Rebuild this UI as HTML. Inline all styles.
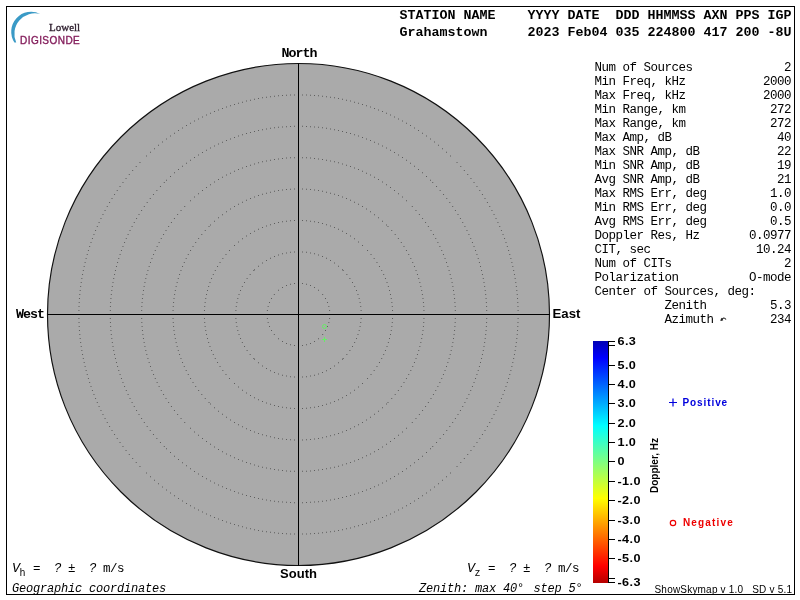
<!DOCTYPE html>
<html><head><meta charset="utf-8">
<style>
html,body{margin:0;padding:0;background:#fff;width:800px;height:600px;overflow:hidden}
svg{display:block;will-change:transform}
text{white-space:pre}
.hb{font-family:"Liberation Mono",monospace;font-weight:bold;font-size:13.333px;fill:#000}
.im{font-family:"Liberation Mono",monospace;font-size:12.5px;letter-spacing:-0.5px;fill:#000}
.it{font-family:"Liberation Mono",monospace;font-style:italic;font-size:12.5px;letter-spacing:-0.5px;fill:#000}
.cb{font-family:"Liberation Sans",sans-serif;font-weight:bold;font-size:11px;letter-spacing:0.4px;fill:#000}
.dirm{font-family:"Liberation Mono",monospace;font-weight:bold;font-size:13.333px;letter-spacing:-1px;fill:#000}
.dir{font-family:"Liberation Sans",sans-serif;font-weight:bold;font-size:13px;fill:#000}
.sm{font-family:"Liberation Sans",sans-serif;font-size:10px;fill:#000;letter-spacing:0.2px}
.lg{font-family:"Liberation Sans",sans-serif;font-weight:bold;font-size:10px;letter-spacing:0.9px}
</style></head>
<body>
<svg width="800" height="600" viewBox="0 0 800 600">
<defs>
<linearGradient id="jet" x1="0" y1="0" x2="0" y2="1">
<stop offset="0" stop-color="#0000b4"/>
<stop offset="0.07" stop-color="#0000ff"/>
<stop offset="0.35" stop-color="#00ffff"/>
<stop offset="0.5" stop-color="#80ff80"/>
<stop offset="0.65" stop-color="#ffff00"/>
<stop offset="0.93" stop-color="#ff0000"/>
<stop offset="1" stop-color="#b40000"/>
</linearGradient>
</defs>
<rect x="6.5" y="6.5" width="788" height="588" fill="none" stroke="#000" stroke-width="1"/>
<!-- logo -->
<path d="M40.45,14.13 A19.9,19.9 0 0 0 14.4,42.5 L16.2,42.5 A20.6,20.6 0 0 1 40.45,14.13 Z" fill="#3a9ac6"/>
<text x="49" y="30.5" style="font-family:'Liberation Serif',serif;font-size:11px;fill:#2a1a2a;stroke:#2a1a2a;stroke-width:0.3px">Lowell</text>
<text x="20" y="43.7" style="font-family:'Liberation Sans',sans-serif;font-size:10px;letter-spacing:0.45px;fill:#841e5c;stroke:#841e5c;stroke-width:0.35px">DIGISONDE</text>
<!-- header -->
<text class="hb" x="399.5" y="19">STATION NAME    YYYY DATE  DDD HHMMSS AXN PPS IGP</text>
<text class="hb" x="399.5" y="36">Grahamstown     2023 Feb04 035 224800 417 200 -8U</text>
<!-- chart -->
<circle cx="298.5" cy="314.5" r="251" fill="#aaaaaa" stroke="#111" stroke-width="1.15"/>
<path fill="#5e5e5e" d="M328.34 306h1v1h-1zM266.88 318h1v1h-1zM306 283.66h1v1h-1zM278 338.17h1v1h-1zM271.01 298h1v1h-1zM329.38 314h1v1h-1zM273.83 334h1v1h-1zM314 287.01h1v1h-1zM306 344.34h1v1h-1zM282 340.99h1v1h-1zM294 282.88h1v1h-1zM266.62 314h1v1h-1zM273.83 294h1v1h-1zM322.17 334h1v1h-1zM302 345.12h1v1h-1zM324.99 330h1v1h-1zM318 289.83h1v1h-1zM329.12 310h1v1h-1zM290 283.66h1v1h-1zM322.17 294h1v1h-1zM326.99 302h1v1h-1zM282 287.01h1v1h-1zM290 344.34h1v1h-1zM286 285.01h1v1h-1zM267.66 322h1v1h-1zM278 289.83h1v1h-1zM298 345.38h1v1h-1zM271.01 330h1v1h-1zM310 285.01h1v1h-1zM326.99 326h1v1h-1zM302 282.88h1v1h-1zM266.88 310h1v1h-1zM328.34 322h1v1h-1zM269.01 302h1v1h-1zM329.12 318h1v1h-1zM324.99 298h1v1h-1zM267.66 306h1v1h-1zM314 340.99h1v1h-1zM318 338.17h1v1h-1zM294 345.12h1v1h-1zM269.01 326h1v1h-1zM286 342.99h1v1h-1zM298 282.62h1v1h-1zM310 342.99h1v1h-1zM349.4 350h1v1h-1zM254 269.26h1v1h-1zM342 358.74h1v1h-1zM298 376.75h1v1h-1zM294 376.62h1v1h-1zM262 262.6h1v1h-1zM238.52 294h1v1h-1zM241.84 286h1v1h-1zM360.62 318h1v1h-1zM306 376.24h1v1h-1zM235.38 310h1v1h-1zM334 262.6h1v1h-1zM326 257.84h1v1h-1zM290 251.76h1v1h-1zM322 371.98h1v1h-1zM253.26 358h1v1h-1zM357.48 334h1v1h-1zM310 375.59h1v1h-1zM338 362.35h1v1h-1zM354.16 286h1v1h-1zM302 251.38h1v1h-1zM282 374.68h1v1h-1zM298 251.25h1v1h-1zM278 254.52h1v1h-1zM342 269.26h1v1h-1zM326 370.16h1v1h-1zM351.98 282h1v1h-1zM351.98 346h1v1h-1zM330 260.02h1v1h-1zM266 260.02h1v1h-1zM310 252.41h1v1h-1zM286 252.41h1v1h-1zM274 371.98h1v1h-1zM349.4 278h1v1h-1zM314 374.68h1v1h-1zM342.74 358h1v1h-1zM360.24 322h1v1h-1zM359.59 326h1v1h-1zM235.25 314h1v1h-1zM236.41 326h1v1h-1zM346.35 354h1v1h-1zM318 254.52h1v1h-1zM360.24 306h1v1h-1zM235.38 318h1v1h-1zM338 265.65h1v1h-1zM290 376.24h1v1h-1zM346.35 274h1v1h-1zM249.65 354h1v1h-1zM360.62 310h1v1h-1zM258 362.35h1v1h-1zM278 373.48h1v1h-1zM249.65 274h1v1h-1zM237.32 330h1v1h-1zM238.52 334h1v1h-1zM355.98 290h1v1h-1zM246.6 278h1v1h-1zM294 251.38h1v1h-1zM235.76 306h1v1h-1zM282 253.32h1v1h-1zM266 367.98h1v1h-1zM240.02 290h1v1h-1zM322 256.02h1v1h-1zM355.98 338h1v1h-1zM302 376.62h1v1h-1zM244.02 282h1v1h-1zM357.48 294h1v1h-1zM237.32 298h1v1h-1zM240.02 338h1v1h-1zM358.68 298h1v1h-1zM244.02 346h1v1h-1zM270 257.84h1v1h-1zM254 358.74h1v1h-1zM318 373.48h1v1h-1zM314 253.32h1v1h-1zM241.84 342h1v1h-1zM258 265.65h1v1h-1zM306 251.76h1v1h-1zM235.76 322h1v1h-1zM360.75 314h1v1h-1zM274 256.02h1v1h-1zM358.68 330h1v1h-1zM342.74 270h1v1h-1zM270 370.16h1v1h-1zM359.59 302h1v1h-1zM262 365.4h1v1h-1zM330 367.98h1v1h-1zM253.26 270h1v1h-1zM354.16 342h1v1h-1zM236.41 302h1v1h-1zM334 365.4h1v1h-1zM246.6 350h1v1h-1zM286 375.59h1v1h-1zM391.78 306h1v1h-1zM342 397.21h1v1h-1zM322 405.01h1v1h-1zM383.2 354h1v1h-1zM214.79 358h1v1h-1zM386.52 282h1v1h-1zM346 233.03h1v1h-1zM386.52 346h1v1h-1zM389.98 334h1v1h-1zM310 407.36h1v1h-1zM383.2 274h1v1h-1zM294 408.04h1v1h-1zM209.48 282h1v1h-1zM250 394.97h1v1h-1zM209.48 346h1v1h-1zM274 222.99h1v1h-1zM204.22 322h1v1h-1zM384.97 278h1v1h-1zM203.96 318h1v1h-1zM282 406.75h1v1h-1zM219.54 262h1v1h-1zM326 403.86h1v1h-1zM208.14 342h1v1h-1zM204.22 306h1v1h-1zM362 244.98h1v1h-1zM204.64 302h1v1h-1zM206.99 290h1v1h-1zM389.01 338h1v1h-1zM274 405.01h1v1h-1zM242 238.35h1v1h-1zM262 227.03h1v1h-1zM376.46 366h1v1h-1zM234 244.98h1v1h-1zM278 405.98h1v1h-1zM298 408.12h1v1h-1zM206.99 338h1v1h-1zM290 407.78h1v1h-1zM211.03 350h1v1h-1zM225.48 254h1v1h-1zM378.97 362h1v1h-1zM334 227.03h1v1h-1zM314 406.75h1v1h-1zM203.88 314h1v1h-1zM302 219.96h1v1h-1zM286 220.64h1v1h-1zM212.8 354h1v1h-1zM238 241.48h1v1h-1zM206.02 294h1v1h-1zM338 399.2h1v1h-1zM242 389.65h1v1h-1zM381.21 270h1v1h-1zM266 225.48h1v1h-1zM254 230.79h1v1h-1zM326 224.14h1v1h-1zM212.8 274h1v1h-1zM342 230.79h1v1h-1zM306 220.22h1v1h-1zM389.01 290h1v1h-1zM391.36 302h1v1h-1zM298 219.88h1v1h-1zM378.97 266h1v1h-1zM346 394.97h1v1h-1zM370.52 254h1v1h-1zM318 405.98h1v1h-1zM338 228.8h1v1h-1zM238 386.52h1v1h-1zM228.98 250h1v1h-1zM214.79 270h1v1h-1zM350 235.54h1v1h-1zM228.98 378h1v1h-1zM350 392.46h1v1h-1zM392.04 318h1v1h-1zM310 220.64h1v1h-1zM389.98 294h1v1h-1zM330 225.48h1v1h-1zM219.54 366h1v1h-1zM246 392.46h1v1h-1zM387.86 342h1v1h-1zM381.21 358h1v1h-1zM306 407.78h1v1h-1zM258 399.2h1v1h-1zM278 222.02h1v1h-1zM205.25 298h1v1h-1zM302 408.04h1v1h-1zM330 402.52h1v1h-1zM217.03 362h1v1h-1zM294 219.96h1v1h-1zM204.64 326h1v1h-1zM390.75 330h1v1h-1zM266 402.52h1v1h-1zM254 397.21h1v1h-1zM384.97 350h1v1h-1zM270 403.86h1v1h-1zM290 220.22h1v1h-1zM208.14 286h1v1h-1zM376.46 262h1v1h-1zM373.65 258h1v1h-1zM354 238.35h1v1h-1zM258 228.8h1v1h-1zM358 386.52h1v1h-1zM203.96 310h1v1h-1zM392.12 314h1v1h-1zM206.02 334h1v1h-1zM246 235.54h1v1h-1zM286 407.36h1v1h-1zM205.25 330h1v1h-1zM282 221.25h1v1h-1zM262 400.97h1v1h-1zM217.03 266h1v1h-1zM222.35 258h1v1h-1zM373.65 370h1v1h-1zM370.52 374h1v1h-1zM390.75 298h1v1h-1zM318 222.02h1v1h-1zM362 383.02h1v1h-1zM334 400.97h1v1h-1zM354 389.65h1v1h-1zM222.35 370h1v1h-1zM367.02 250h1v1h-1zM322 222.99h1v1h-1zM367.02 378h1v1h-1zM358 241.48h1v1h-1zM211.03 278h1v1h-1zM391.36 326h1v1h-1zM391.78 322h1v1h-1zM234 383.02h1v1h-1zM225.48 374h1v1h-1zM387.86 286h1v1h-1zM270 224.14h1v1h-1zM250 233.03h1v1h-1zM392.04 310h1v1h-1zM314 221.25h1v1h-1zM208.52 402h1v1h-1zM175.66 286h1v1h-1zM408.23 374h1v1h-1zM185.69 370h1v1h-1zM421.9 334h1v1h-1zM423.44 310h1v1h-1zM201.3 394h1v1h-1zM195.21 386h1v1h-1zM266 435.35h1v1h-1zM266 192.65h1v1h-1zM290 188.75h1v1h-1zM400.79 242h1v1h-1zM394.7 234h1v1h-1zM172.56 318h1v1h-1zM174.1 294h1v1h-1zM410.31 258h1v1h-1zM195.21 242h1v1h-1zM187.77 254h1v1h-1zM420.34 342h1v1h-1zM246 428.22h1v1h-1zM358 203.77h1v1h-1zM270 191.66h1v1h-1zM354 426.31h1v1h-1zM262 193.77h1v1h-1zM192.52 382h1v1h-1zM338 195.05h1v1h-1zM204.76 398h1v1h-1zM282 189.52h1v1h-1zM318 437.9h1v1h-1zM201.3 234h1v1h-1zM210 403.48h1v1h-1zM318 190.1h1v1h-1zM179.05 354h1v1h-1zM386 403.48h1v1h-1zM410.31 370h1v1h-1zM378 217.3h1v1h-1zM226 416.79h1v1h-1zM262 434.23h1v1h-1zM294 188.56h1v1h-1zM322 190.82h1v1h-1zM177.77 278h1v1h-1zM286 189.07h1v1h-1zM310 438.93h1v1h-1zM387.48 402h1v1h-1zM250 198.04h1v1h-1zM183.78 366h1v1h-1zM179.05 274h1v1h-1zM180.47 358h1v1h-1zM172.5 314h1v1h-1zM416.95 274h1v1h-1zM254 196.47h1v1h-1zM386 224.52h1v1h-1zM334 434.23h1v1h-1zM350 199.78h1v1h-1zM403.48 246h1v1h-1zM397.87 390h1v1h-1zM400.79 386h1v1h-1zM330 435.35h1v1h-1zM330 192.65h1v1h-1zM214 407.24h1v1h-1zM314 189.52h1v1h-1zM222 214.13h1v1h-1zM246 199.78h1v1h-1zM382 220.76h1v1h-1zM306 439.25h1v1h-1zM422.93 302h1v1h-1zM173.07 326h1v1h-1zM226 211.21h1v1h-1zM218 217.3h1v1h-1zM423.44 318h1v1h-1zM387.48 226h1v1h-1zM412.22 366h1v1h-1zM366 208.52h1v1h-1zM274 190.82h1v1h-1zM198.13 238h1v1h-1zM182.04 266h1v1h-1zM214 220.76h1v1h-1zM175.66 342h1v1h-1zM405.95 250h1v1h-1zM405.95 378h1v1h-1zM415.53 358h1v1h-1zM423.5 314h1v1h-1zM416.95 354h1v1h-1zM391.24 398h1v1h-1zM421.18 290h1v1h-1zM298 439.5h1v1h-1zM310 189.07h1v1h-1zM258 195.05h1v1h-1zM172.75 306h1v1h-1zM382 407.24h1v1h-1zM302 439.44h1v1h-1zM176.65 282h1v1h-1zM210 224.52h1v1h-1zM362 206.05h1v1h-1zM176.65 346h1v1h-1zM421.18 338h1v1h-1zM192.52 246h1v1h-1zM342 196.47h1v1h-1zM326 191.66h1v1h-1zM346 198.04h1v1h-1zM182.04 362h1v1h-1zM354 201.69h1v1h-1zM366 419.48h1v1h-1zM362 421.95h1v1h-1zM421.9 294h1v1h-1zM173.52 330h1v1h-1zM234 206.05h1v1h-1zM230 208.52h1v1h-1zM413.96 266h1v1h-1zM270 436.34h1v1h-1zM418.23 278h1v1h-1zM250 429.96h1v1h-1zM254 431.53h1v1h-1zM242 426.31h1v1h-1zM358 424.23h1v1h-1zM408.23 254h1v1h-1zM222 413.87h1v1h-1zM419.35 282h1v1h-1zM234 421.95h1v1h-1zM419.35 346h1v1h-1zM338 432.95h1v1h-1zM190.05 378h1v1h-1zM204.76 230h1v1h-1zM172.75 322h1v1h-1zM180.47 270h1v1h-1zM173.52 298h1v1h-1zM420.34 286h1v1h-1zM413.96 362h1v1h-1zM306 188.75h1v1h-1zM397.87 238h1v1h-1zM322 437.18h1v1h-1zM183.78 262h1v1h-1zM230 419.48h1v1h-1zM172.56 310h1v1h-1zM378 410.7h1v1h-1zM370 416.79h1v1h-1zM374 214.13h1v1h-1zM187.77 374h1v1h-1zM238 203.77h1v1h-1zM350 428.22h1v1h-1zM302 188.56h1v1h-1zM173.07 302h1v1h-1zM177.77 350h1v1h-1zM374 413.87h1v1h-1zM282 438.48h1v1h-1zM174.1 334h1v1h-1zM422.48 298h1v1h-1zM422.93 326h1v1h-1zM294 439.44h1v1h-1zM342 431.53h1v1h-1zM403.48 382h1v1h-1zM174.82 290h1v1h-1zM415.53 270h1v1h-1zM190.05 250h1v1h-1zM412.22 262h1v1h-1zM346 429.96h1v1h-1zM418.23 350h1v1h-1zM274 437.18h1v1h-1zM208.52 226h1v1h-1zM423.25 322h1v1h-1zM334 193.77h1v1h-1zM286 438.93h1v1h-1zM290 439.25h1v1h-1zM185.69 258h1v1h-1zM298 188.5h1v1h-1zM174.82 338h1v1h-1zM370 211.21h1v1h-1zM198.13 390h1v1h-1zM278 437.9h1v1h-1zM218 410.7h1v1h-1zM394.7 394h1v1h-1zM278 190.1h1v1h-1zM314 438.48h1v1h-1zM391.24 230h1v1h-1zM258 432.95h1v1h-1zM422.48 330h1v1h-1zM242 201.69h1v1h-1zM326 436.34h1v1h-1zM423.25 306h1v1h-1zM238 424.23h1v1h-1zM145.31 350h1v1h-1zM214 181.51h1v1h-1zM350 462.01h1v1h-1zM366 172.63h1v1h-1zM218 448.94h1v1h-1zM278 158.41h1v1h-1zM153.05 374h1v1h-1zM418.87 214h1v1h-1zM442.95 254h1v1h-1zM180.55 418h1v1h-1zM318 469.6h1v1h-1zM310 470.41h1v1h-1zM286 470.41h1v1h-1zM402 431.45h1v1h-1zM210 184.13h1v1h-1zM230 455.37h1v1h-1zM432.94 234h1v1h-1zM246 165.99h1v1h-1zM446.01 262h1v1h-1zM330 160.42h1v1h-1zM180.55 210h1v1h-1zM454.41 326h1v1h-1zM173.93 218h1v1h-1zM250 164.65h1v1h-1zM198 434.87h1v1h-1zM142.41 334h1v1h-1zM262 161.31h1v1h-1zM448.58 270h1v1h-1zM358 169.05h1v1h-1zM374 176.76h1v1h-1zM398 434.87h1v1h-1zM430.49 230h1v1h-1zM425.07 222h1v1h-1zM362 170.77h1v1h-1zM453.03 290h1v1h-1zM302 157.18h1v1h-1zM451.58 282h1v1h-1zM451.58 346h1v1h-1zM142.97 290h1v1h-1zM242 460.54h1v1h-1zM362 457.23h1v1h-1zM262 466.69h1v1h-1zM346 164.65h1v1h-1zM370 174.62h1v1h-1zM374 451.24h1v1h-1zM422.07 218h1v1h-1zM326 159.64h1v1h-1zM447.35 362h1v1h-1zM202 438.07h1v1h-1zM435.24 238h1v1h-1zM422.07 410h1v1h-1zM222 451.24h1v1h-1zM202 189.93h1v1h-1zM266 467.58h1v1h-1zM142.97 338h1v1h-1zM432.94 394h1v1h-1zM156.63 246h1v1h-1zM338 465.69h1v1h-1zM318 158.41h1v1h-1zM294 470.82h1v1h-1zM334 466.69h1v1h-1zM454.82 318h1v1h-1zM290 470.67h1v1h-1zM439.37 246h1v1h-1zM218 179.06h1v1h-1zM390 186.93h1v1h-1zM198 193.13h1v1h-1zM398 193.13h1v1h-1zM411.78 422h1v1h-1zM141.59 302h1v1h-1zM158.62 242h1v1h-1zM149.99 366h1v1h-1zM143.64 286h1v1h-1zM163.06 394h1v1h-1zM386 443.87h1v1h-1zM194 196.55h1v1h-1zM286 157.59h1v1h-1zM447.35 266h1v1h-1zM326 468.36h1v1h-1zM378 179.06h1v1h-1zM177.13 414h1v1h-1zM246 462.01h1v1h-1zM160.76 238h1v1h-1zM168.13 226h1v1h-1zM450.69 278h1v1h-1zM322 158.97h1v1h-1zM145.31 278h1v1h-1zM206 441.07h1v1h-1zM452.36 286h1v1h-1zM394 438.07h1v1h-1zM306 157.33h1v1h-1zM394 189.93h1v1h-1zM190 427.78h1v1h-1zM418.87 414h1v1h-1zM148.65 266h1v1h-1zM163.06 234h1v1h-1zM282 470.06h1v1h-1zM168.13 402h1v1h-1zM141.18 318h1v1h-1zM194 431.45h1v1h-1zM453.6 334h1v1h-1zM354 460.54h1v1h-1zM442.95 374h1v1h-1zM330 467.58h1v1h-1zM230 172.63h1v1h-1zM298 157.12h1v1h-1zM147.42 358h1v1h-1zM165.51 230h1v1h-1zM158.62 386h1v1h-1zM415.45 418h1v1h-1zM370 453.38h1v1h-1zM454.88 314h1v1h-1zM441.23 250h1v1h-1zM282 157.94h1v1h-1zM238 169.05h1v1h-1zM441.23 378h1v1h-1zM294 157.18h1v1h-1zM322 469.03h1v1h-1zM254 464.58h1v1h-1zM338 162.31h1v1h-1zM254 163.42h1v1h-1zM148.65 362h1v1h-1zM415.45 210h1v1h-1zM170.93 222h1v1h-1zM342 464.58h1v1h-1zM258 465.69h1v1h-1zM210 443.87h1v1h-1zM274 158.97h1v1h-1zM454.41 302h1v1h-1zM358 458.95h1v1h-1zM310 157.59h1v1h-1zM314 470.06h1v1h-1zM141.12 314h1v1h-1zM226 174.62h1v1h-1zM184.22 206h1v1h-1zM141.94 298h1v1h-1zM382 446.49h1v1h-1zM151.46 258h1v1h-1zM430.49 398h1v1h-1zM141.33 322h1v1h-1zM444.54 258h1v1h-1zM153.05 254h1v1h-1zM206 186.93h1v1h-1zM306 470.67h1v1h-1zM142.41 294h1v1h-1zM242 167.46h1v1h-1zM454.82 310h1v1h-1zM448.58 358h1v1h-1zM184.22 422h1v1h-1zM427.87 226h1v1h-1zM314 157.94h1v1h-1zM214 446.49h1v1h-1zM141.33 306h1v1h-1zM151.46 370h1v1h-1zM146.31 354h1v1h-1zM454.67 322h1v1h-1zM444.54 370h1v1h-1zM450.69 350h1v1h-1zM274 469.03h1v1h-1zM141.94 330h1v1h-1zM290 157.33h1v1h-1zM390 441.07h1v1h-1zM427.87 402h1v1h-1zM146.31 274h1v1h-1zM435.24 390h1v1h-1zM190 200.22h1v1h-1zM350 165.99h1v1h-1zM454.67 306h1v1h-1zM270 159.64h1v1h-1zM454.06 330h1v1h-1zM452.36 342h1v1h-1zM411.78 206h1v1h-1zM437.38 386h1v1h-1zM425.07 406h1v1h-1zM141.59 326h1v1h-1zM149.99 262h1v1h-1zM386 184.13h1v1h-1zM446.01 366h1v1h-1zM342 163.42h1v1h-1zM156.63 382h1v1h-1zM141.18 310h1v1h-1zM266 160.42h1v1h-1zM378 448.94h1v1h-1zM302 470.82h1v1h-1zM154.77 250h1v1h-1zM278 469.6h1v1h-1zM258 162.31h1v1h-1zM437.38 242h1v1h-1zM439.37 382h1v1h-1zM154.77 378h1v1h-1zM173.93 410h1v1h-1zM366 455.37h1v1h-1zM160.76 390h1v1h-1zM406 427.78h1v1h-1zM449.69 354h1v1h-1zM270 468.36h1v1h-1zM298 470.88h1v1h-1zM454.06 298h1v1h-1zM222 176.76h1v1h-1zM382 181.51h1v1h-1zM250 463.35h1v1h-1zM334 161.31h1v1h-1zM226 453.38h1v1h-1zM234 170.77h1v1h-1zM354 167.46h1v1h-1zM402 196.55h1v1h-1zM147.42 270h1v1h-1zM453.03 338h1v1h-1zM144.42 282h1v1h-1zM449.69 274h1v1h-1zM144.42 346h1v1h-1zM234 457.23h1v1h-1zM143.64 342h1v1h-1zM165.51 398h1v1h-1zM170.93 406h1v1h-1zM177.13 214h1v1h-1zM238 458.95h1v1h-1zM453.6 294h1v1h-1zM406 200.22h1v1h-1zM346 463.35h1v1h-1zM398 473.49h1v1h-1zM170 175.96h1v1h-1zM143.81 422h1v1h-1zM330 499.51h1v1h-1zM270 127.84h1v1h-1zM234 136.96h1v1h-1zM258 497.95h1v1h-1zM114.05 354h1v1h-1zM485.57 330h1v1h-1zM266 499.51h1v1h-1zM486.08 306h1v1h-1zM182 165.74h1v1h-1zM298 502.25h1v1h-1zM382 145.53h1v1h-1zM266 128.49h1v1h-1zM174 172.36h1v1h-1zM422 455.64h1v1h-1zM390 478.24h1v1h-1zM414 462.26h1v1h-1zM110.43 298h1v1h-1zM481.95 274h1v1h-1zM114.05 274h1v1h-1zM326 500.16h1v1h-1zM430 179.78h1v1h-1zM482.78 278h1v1h-1zM226 487.94h1v1h-1zM426 452.04h1v1h-1zM454.91 210h1v1h-1zM115.97 362h1v1h-1zM109.79 318h1v1h-1zM476.43 254h1v1h-1zM457.49 214h1v1h-1zM214 145.53h1v1h-1zM422 172.36h1v1h-1zM110.13 302h1v1h-1zM274 500.71h1v1h-1zM484.71 290h1v1h-1zM354 134.27h1v1h-1zM475.04 250h1v1h-1zM234 491.04h1v1h-1zM222 486.23h1v1h-1zM278 501.19h1v1h-1zM274 127.29h1v1h-1zM294 502.21h1v1h-1zM485.57 298h1v1h-1zM111.29 290h1v1h-1zM238 492.43h1v1h-1zM475.04 378h1v1h-1zM410 162.69h1v1h-1zM459.93 218h1v1h-1zM470.23 390h1v1h-1zM406 468.19h1v1h-1zM156.36 190h1v1h-1zM466.47 398h1v1h-1zM459.93 410h1v1h-1zM414 165.74h1v1h-1zM432.22 446h1v1h-1zM114.96 358h1v1h-1zM262 129.22h1v1h-1zM111.29 338h1v1h-1zM485.19 334h1v1h-1zM302 125.79h1v1h-1zM478.93 262h1v1h-1zM174 455.64h1v1h-1zM290 125.92h1v1h-1zM163.78 446h1v1h-1zM484.16 286h1v1h-1zM370 140.06h1v1h-1zM113.22 350h1v1h-1zM166 448.22h1v1h-1zM250 131.97h1v1h-1zM141.09 418h1v1h-1zM481.95 354h1v1h-1zM330 128.49h1v1h-1zM334 129.22h1v1h-1zM446.26 198h1v1h-1zM282 126.43h1v1h-1zM462.24 222h1v1h-1zM430 448.22h1v1h-1zM394 475.93h1v1h-1zM402 157.09h1v1h-1zM454.91 418h1v1h-1zM141.09 210h1v1h-1zM194 470.91h1v1h-1zM133.76 406h1v1h-1zM338 130.05h1v1h-1zM473.54 246h1v1h-1zM346 131.97h1v1h-1zM477.73 370h1v1h-1zM318 501.19h1v1h-1zM109.92 322h1v1h-1zM362 491.04h1v1h-1zM149.74 430h1v1h-1zM138.51 214h1v1h-1zM112.49 282h1v1h-1zM464.41 226h1v1h-1zM452.19 206h1v1h-1zM112.49 346h1v1h-1zM306 502.08h1v1h-1zM254 130.96h1v1h-1zM117.07 262h1v1h-1zM436.04 186h1v1h-1zM468.41 234h1v1h-1zM218 484.41h1v1h-1zM122.46 246h1v1h-1zM436.04 442h1v1h-1zM350 133.07h1v1h-1zM226 140.06h1v1h-1zM109.92 306h1v1h-1zM480.03 362h1v1h-1zM129.53 230h1v1h-1zM254 497.04h1v1h-1zM426 175.96h1v1h-1zM111.84 286h1v1h-1zM178 168.96h1v1h-1zM326 127.84h1v1h-1zM482.78 350h1v1h-1zM338 497.95h1v1h-1zM481.04 358h1v1h-1zM124.06 242h1v1h-1zM206 478.24h1v1h-1zM194 157.09h1v1h-1zM366 138.46h1v1h-1zM143.81 206h1v1h-1zM109.75 314h1v1h-1zM314 126.43h1v1h-1zM439.64 438h1v1h-1zM366 489.54h1v1h-1zM464.41 402h1v1h-1zM190 159.81h1v1h-1zM418 168.96h1v1h-1zM246 133.07h1v1h-1zM125.77 390h1v1h-1zM449.31 426h1v1h-1zM378 484.41h1v1h-1zM382 482.47h1v1h-1zM358 492.43h1v1h-1zM120.96 250h1v1h-1zM286 501.87h1v1h-1zM410 465.31h1v1h-1zM120.96 378h1v1h-1zM354 493.73h1v1h-1zM109.79 310h1v1h-1zM443.04 194h1v1h-1zM476.43 374h1v1h-1zM477.73 258h1v1h-1zM480.03 266h1v1h-1zM468.41 394h1v1h-1zM202 152.07h1v1h-1zM127.59 234h1v1h-1zM214 482.47h1v1h-1zM118.27 370h1v1h-1zM119.57 254h1v1h-1zM152.96 434h1v1h-1zM449.31 202h1v1h-1zM486.21 318h1v1h-1zM242 134.27h1v1h-1zM206 149.76h1v1h-1zM186 162.69h1v1h-1zM298 125.75h1v1h-1zM110.81 334h1v1h-1zM374 486.23h1v1h-1zM238 135.57h1v1h-1zM443.04 434h1v1h-1zM156.36 438h1v1h-1zM294 125.79h1v1h-1zM286 126.13h1v1h-1zM386 480.41h1v1h-1zM350 494.93h1v1h-1zM470.23 238h1v1h-1zM146.69 202h1v1h-1zM131.59 226h1v1h-1zM230 138.46h1v1h-1zM178 459.04h1v1h-1zM486.25 314h1v1h-1zM282 501.57h1v1h-1zM124.06 386h1v1h-1zM198 154.51h1v1h-1zM133.76 222h1v1h-1zM258 130.05h1v1h-1zM110.13 326h1v1h-1zM270 500.16h1v1h-1zM113.22 278h1v1h-1zM484.16 342h1v1h-1zM471.94 386h1v1h-1zM398 154.51h1v1h-1zM342 130.96h1v1h-1zM418 459.04h1v1h-1zM170 452.04h1v1h-1zM246 494.93h1v1h-1zM370 487.94h1v1h-1zM159.96 186h1v1h-1zM406 159.81h1v1h-1zM190 468.19h1v1h-1zM378 143.59h1v1h-1zM485.87 302h1v1h-1zM127.59 394h1v1h-1zM198 473.49h1v1h-1zM466.47 230h1v1h-1zM478.93 366h1v1h-1zM483.51 282h1v1h-1zM342 497.04h1v1h-1zM131.59 402h1v1h-1zM483.51 346h1v1h-1zM471.94 242h1v1h-1zM159.96 442h1v1h-1zM462.24 406h1v1h-1zM394 152.07h1v1h-1zM457.49 414h1v1h-1zM290 502.08h1v1h-1zM278 126.81h1v1h-1zM152.96 194h1v1h-1zM485.19 294h1v1h-1zM250 496.03h1v1h-1zM118.27 258h1v1h-1zM122.46 382h1v1h-1zM310 501.87h1v1h-1zM222 141.77h1v1h-1zM302 502.21h1v1h-1zM210 147.59h1v1h-1zM386 147.59h1v1h-1zM439.64 190h1v1h-1zM146.69 426h1v1h-1zM446.26 430h1v1h-1zM166 179.78h1v1h-1zM314 501.57h1v1h-1zM262 498.78h1v1h-1zM346 496.03h1v1h-1zM111.84 342h1v1h-1zM432.22 182h1v1h-1zM117.07 366h1v1h-1zM202 475.93h1v1h-1zM149.74 198h1v1h-1zM110.81 294h1v1h-1zM334 498.78h1v1h-1zM210 480.41h1v1h-1zM310 126.13h1v1h-1zM218 143.59h1v1h-1zM481.04 270h1v1h-1zM129.53 398h1v1h-1zM163.78 182h1v1h-1zM182 462.26h1v1h-1zM136.07 218h1v1h-1zM306 125.92h1v1h-1zM230 489.54h1v1h-1zM125.77 238h1v1h-1zM136.07 410h1v1h-1zM114.96 270h1v1h-1zM452.19 422h1v1h-1zM186 465.31h1v1h-1zM110.43 330h1v1h-1zM322 500.71h1v1h-1zM318 126.81h1v1h-1zM484.71 338h1v1h-1zM358 135.57h1v1h-1zM374 141.77h1v1h-1zM362 136.96h1v1h-1zM242 493.73h1v1h-1zM473.54 382h1v1h-1zM322 127.29h1v1h-1zM390 149.76h1v1h-1zM402 470.91h1v1h-1zM486.08 322h1v1h-1zM485.87 326h1v1h-1zM115.97 266h1v1h-1zM138.51 414h1v1h-1zM119.57 374h1v1h-1zM486.21 310h1v1h-1zM460.27 462h1v1h-1zM338 529.95h1v1h-1zM79.29 334h1v1h-1zM302 533.59h1v1h-1zM210 112.78h1v1h-1zM402 507.44h1v1h-1zM479.27 438h1v1h-1zM116.73 190h1v1h-1zM258 98.05h1v1h-1zM135.73 166h1v1h-1zM511.38 366h1v1h-1zM162 486.45h1v1h-1zM89.17 246h1v1h-1zM370 106.51h1v1h-1zM282 94.96h1v1h-1zM93.46 394h1v1h-1zM506.83 382h1v1h-1zM426 492.47h1v1h-1zM350 527.38h1v1h-1zM78.41 310h1v1h-1zM322 95.69h1v1h-1zM91.94 390h1v1h-1zM238 102.73h1v1h-1zM78.38 314h1v1h-1zM139.47 162h1v1h-1zM486.92 426h1v1h-1zM194 120.56h1v1h-1zM294 94.41h1v1h-1zM386 515.22h1v1h-1zM479.27 190h1v1h-1zM154 479.83h1v1h-1zM516.71 294h1v1h-1zM206 513.43h1v1h-1zM446 476.27h1v1h-1zM80.17 286h1v1h-1zM198 118.46h1v1h-1zM270 531.83h1v1h-1zM294 533.59h1v1h-1zM79.69 290h1v1h-1zM382 516.93h1v1h-1zM238 525.27h1v1h-1zM310 533.3h1v1h-1zM495.53 218h1v1h-1zM497.43 406h1v1h-1zM298 533.62h1v1h-1zM125.55 450h1v1h-1zM508.09 250h1v1h-1zM515.83 286h1v1h-1zM516.31 290h1v1h-1zM85.63 258h1v1h-1zM362 103.91h1v1h-1zM506.83 246h1v1h-1zM374 107.94h1v1h-1zM106.76 422h1v1h-1zM456.53 162h1v1h-1zM218 109.46h1v1h-1zM282 533.04h1v1h-1zM266 96.72h1v1h-1zM473.53 446h1v1h-1zM262 530.65h1v1h-1zM350 100.62h1v1h-1zM95.07 398h1v1h-1zM505.49 386h1v1h-1zM170 492.47h1v1h-1zM505.49 242h1v1h-1zM182 500.49h1v1h-1zM146 155.47h1v1h-1zM100.47 218h1v1h-1zM186 502.92h1v1h-1zM78.52 322h1v1h-1zM402 120.56h1v1h-1zM122.47 446h1v1h-1zM510.37 258h1v1h-1zM80.72 282h1v1h-1zM517.3 326h1v1h-1zM481.94 434h1v1h-1zM98.57 406h1v1h-1zM104.56 418h1v1h-1zM414 500.49h1v1h-1zM463.83 458h1v1h-1zM510.37 370h1v1h-1zM358 525.27h1v1h-1zM504.06 238h1v1h-1zM80.17 342h1v1h-1zM517.48 322h1v1h-1zM306 533.48h1v1h-1zM102.46 214h1v1h-1zM298 94.38h1v1h-1zM463.83 170h1v1h-1zM318 532.71h1v1h-1zM114.06 434h1v1h-1zM286 94.7h1v1h-1zM434 141.55h1v1h-1zM286 533.3h1v1h-1zM512.32 266h1v1h-1zM84.62 262h1v1h-1zM96.78 226h1v1h-1zM262 97.35h1v1h-1zM270 96.17h1v1h-1zM214 516.93h1v1h-1zM390 114.57h1v1h-1zM250 99.68h1v1h-1zM146 472.53h1v1h-1zM81.35 350h1v1h-1zM125.55 178h1v1h-1zM491.44 418h1v1h-1zM95.07 230h1v1h-1zM266 531.28h1v1h-1zM346 99.68h1v1h-1zM504.06 390h1v1h-1zM214 111.07h1v1h-1zM486.92 202h1v1h-1zM290 533.48h1v1h-1zM154 148.17h1v1h-1zM517.3 302h1v1h-1zM410 502.92h1v1h-1zM430 138.47h1v1h-1zM422 495.27h1v1h-1zM274 95.69h1v1h-1zM202 116.47h1v1h-1zM366 522.83h1v1h-1zM87.91 250h1v1h-1zM218 518.54h1v1h-1zM513.95 354h1v1h-1zM86.73 254h1v1h-1zM135.73 462h1v1h-1zM226 106.51h1v1h-1zM511.38 262h1v1h-1zM374 520.06h1v1h-1zM174 495.27h1v1h-1zM234 103.91h1v1h-1zM430 489.53h1v1h-1zM242 526.37h1v1h-1zM514.65 350h1v1h-1zM230 522.83h1v1h-1zM190 122.76h1v1h-1zM102.46 414h1v1h-1zM390 513.43h1v1h-1zM467.22 454h1v1h-1zM502.54 394h1v1h-1zM338 98.05h1v1h-1zM386 112.78h1v1h-1zM418 130.06h1v1h-1zM119.53 186h1v1h-1zM516.71 334h1v1h-1zM78.96 330h1v1h-1zM119.53 442h1v1h-1zM242 101.63h1v1h-1zM438 483.22h1v1h-1zM254 529.17h1v1h-1zM78.41 318h1v1h-1zM342 529.17h1v1h-1zM202 511.53h1v1h-1zM128.78 454h1v1h-1zM406 122.76h1v1h-1zM78.96 298h1v1h-1zM86.73 374h1v1h-1zM80.72 346h1v1h-1zM489.24 422h1v1h-1zM178 130.06h1v1h-1zM446 151.73h1v1h-1zM499.22 226h1v1h-1zM82.83 270h1v1h-1zM106.76 206h1v1h-1zM515.28 282h1v1h-1zM509.27 254h1v1h-1zM162 141.55h1v1h-1zM318 95.29h1v1h-1zM111.51 198h1v1h-1zM467.22 174h1v1h-1zM254 98.83h1v1h-1zM438 144.78h1v1h-1zM517.59 310h1v1h-1zM354 526.37h1v1h-1zM476.47 186h1v1h-1zM517.04 298h1v1h-1zM150 476.27h1v1h-1zM476.47 442h1v1h-1zM83.68 266h1v1h-1zM178 497.94h1v1h-1zM258 529.95h1v1h-1zM96.78 402h1v1h-1zM93.46 234h1v1h-1zM128.78 174h1v1h-1zM493.54 214h1v1h-1zM366 105.17h1v1h-1zM354 101.63h1v1h-1zM166 138.47h1v1h-1zM362 524.09h1v1h-1zM190 505.24h1v1h-1zM222 107.94h1v1h-1zM370 521.49h1v1h-1zM460.27 166h1v1h-1zM509.27 374h1v1h-1zM378 109.46h1v1h-1zM79.29 294h1v1h-1zM508.09 378h1v1h-1zM230 105.17h1v1h-1zM210 515.22h1v1h-1zM322 532.31h1v1h-1zM82.83 358h1v1h-1zM513.95 274h1v1h-1zM166 489.53h1v1h-1zM78.7 326h1v1h-1zM186 125.08h1v1h-1zM442 479.83h1v1h-1zM206 114.57h1v1h-1zM111.51 430h1v1h-1zM406 505.24h1v1h-1zM398 118.46h1v1h-1zM484.49 198h1v1h-1zM91.94 238h1v1h-1zM250 528.32h1v1h-1zM104.56 210h1v1h-1zM82.05 274h1v1h-1zM470.45 450h1v1h-1zM450 155.47h1v1h-1zM346 528.32h1v1h-1zM326 531.83h1v1h-1zM334 530.65h1v1h-1zM481.94 194h1v1h-1zM306 94.52h1v1h-1zM278 95.29h1v1h-1zM198 509.54h1v1h-1zM330 96.72h1v1h-1zM493.54 414h1v1h-1zM78.52 306h1v1h-1zM82.05 354h1v1h-1zM513.17 270h1v1h-1zM182 127.51h1v1h-1zM491.44 210h1v1h-1zM497.43 222h1v1h-1zM500.93 398h1v1h-1zM114.06 194h1v1h-1zM514.65 278h1v1h-1zM394 511.53h1v1h-1zM78.7 302h1v1h-1zM515.28 346h1v1h-1zM473.53 182h1v1h-1zM499.22 402h1v1h-1zM517.48 306h1v1h-1zM158 483.22h1v1h-1zM83.68 362h1v1h-1zM310 94.7h1v1h-1zM484.49 430h1v1h-1zM410 125.08h1v1h-1zM278 532.71h1v1h-1zM450 472.53h1v1h-1zM132.17 458h1v1h-1zM414 127.51h1v1h-1zM90.51 386h1v1h-1zM434 486.45h1v1h-1zM290 94.52h1v1h-1zM426 135.53h1v1h-1zM90.51 242h1v1h-1zM246 527.38h1v1h-1zM334 97.35h1v1h-1zM382 111.07h1v1h-1zM132.17 170h1v1h-1zM418 497.94h1v1h-1zM122.47 182h1v1h-1zM512.32 362h1v1h-1zM314 94.96h1v1h-1zM378 518.54h1v1h-1zM517.04 330h1v1h-1zM85.63 370h1v1h-1zM194 507.44h1v1h-1zM139.47 466h1v1h-1zM489.24 206h1v1h-1zM222 520.06h1v1h-1zM342 98.83h1v1h-1zM495.53 410h1v1h-1zM234 524.09h1v1h-1zM79.69 338h1v1h-1zM158 144.78h1v1h-1zM87.91 378h1v1h-1zM330 531.28h1v1h-1zM513.17 358h1v1h-1zM470.45 178h1v1h-1zM500.93 230h1v1h-1zM98.57 222h1v1h-1zM358 102.73h1v1h-1zM516.31 338h1v1h-1zM326 96.17h1v1h-1zM422 132.73h1v1h-1zM84.62 366h1v1h-1zM116.73 438h1v1h-1zM442 148.17h1v1h-1zM109.08 202h1v1h-1zM456.53 466h1v1h-1zM89.17 382h1v1h-1zM274 532.31h1v1h-1zM517.59 318h1v1h-1zM246 100.62h1v1h-1zM170 135.53h1v1h-1zM502.54 234h1v1h-1zM174 132.73h1v1h-1zM314 533.04h1v1h-1zM226 521.49h1v1h-1zM100.47 410h1v1h-1zM109.08 426h1v1h-1zM150 151.73h1v1h-1zM81.35 278h1v1h-1zM394 116.47h1v1h-1zM302 94.41h1v1h-1zM398 509.54h1v1h-1zM515.83 342h1v1h-1zM517.62 314h1v1h-1z"/>
<rect x="47.5" y="314" width="502" height="1" fill="#000"/>
<rect x="298" y="63.5" width="1" height="502" fill="#000"/>
<text class="dirm" x="281.5" y="57">North</text>
<text class="dir" x="298.5" y="578" text-anchor="middle">South</text>
<text class="dirm" x="16" y="317.6">West</text>
<text class="dir" x="552.5" y="318" style="font-size:13.2px">East</text>
<!-- markers -->
<circle cx="324.5" cy="326.5" r="2" fill="none" stroke="#66ee66" stroke-width="1"/>
<path d="M322,339.5 h5 M324.5,337 v5" stroke="#66ee66" stroke-width="1"/>
<!-- info -->
<text class="im" x="594.5" y="71">Num of Sources</text>
<text class="im" x="791" y="71" text-anchor="end">2</text>
<text class="im" x="594.5" y="85">Min Freq, kHz</text>
<text class="im" x="791" y="85" text-anchor="end">2000</text>
<text class="im" x="594.5" y="99">Max Freq, kHz</text>
<text class="im" x="791" y="99" text-anchor="end">2000</text>
<text class="im" x="594.5" y="113">Min Range, km</text>
<text class="im" x="791" y="113" text-anchor="end">272</text>
<text class="im" x="594.5" y="127">Max Range, km</text>
<text class="im" x="791" y="127" text-anchor="end">272</text>
<text class="im" x="594.5" y="141">Max Amp, dB</text>
<text class="im" x="791" y="141" text-anchor="end">40</text>
<text class="im" x="594.5" y="155">Max SNR Amp, dB</text>
<text class="im" x="791" y="155" text-anchor="end">22</text>
<text class="im" x="594.5" y="169">Min SNR Amp, dB</text>
<text class="im" x="791" y="169" text-anchor="end">19</text>
<text class="im" x="594.5" y="183">Avg SNR Amp, dB</text>
<text class="im" x="791" y="183" text-anchor="end">21</text>
<text class="im" x="594.5" y="197">Max RMS Err, deg</text>
<text class="im" x="791" y="197" text-anchor="end">1.0</text>
<text class="im" x="594.5" y="211">Min RMS Err, deg</text>
<text class="im" x="791" y="211" text-anchor="end">0.0</text>
<text class="im" x="594.5" y="225">Avg RMS Err, deg</text>
<text class="im" x="791" y="225" text-anchor="end">0.5</text>
<text class="im" x="594.5" y="239">Doppler Res, Hz</text>
<text class="im" x="791" y="239" text-anchor="end">0.0977</text>
<text class="im" x="594.5" y="253">CIT, sec</text>
<text class="im" x="791" y="253" text-anchor="end">10.24</text>
<text class="im" x="594.5" y="267">Num of CITs</text>
<text class="im" x="791" y="267" text-anchor="end">2</text>
<text class="im" x="594.5" y="281">Polarization</text>
<text class="im" x="791" y="281" text-anchor="end">O-mode</text>
<text class="im" x="594.5" y="295">Center of Sources, deg:</text>
<text class="im" x="594.5" y="309">          Zenith</text>
<text class="im" x="791" y="309" text-anchor="end">5.3</text>
<text class="im" x="594.5" y="323">          Azimuth</text>
<text class="im" x="791" y="323" text-anchor="end">234</text>
<path d="M721.5,320.5 Q723.5,316 726,319.5" fill="none" stroke="#222" stroke-width="1.1"/><path d="M720.3,321 L721.2,317.8 L723.3,320.2 Z" fill="#222"/>
<!-- colorbar -->
<rect x="593" y="341" width="15" height="242" fill="url(#jet)"/>
<rect x="608" y="341" width="1" height="242" fill="#000"/>
<rect x="608" y="341" width="7" height="1" fill="#000"/>
<rect x="608" y="345" width="7" height="1" fill="#000"/>
<rect x="608" y="365" width="7" height="1" fill="#000"/>
<rect x="608" y="384" width="7" height="1" fill="#000"/>
<rect x="608" y="403" width="7" height="1" fill="#000"/>
<rect x="608" y="423" width="7" height="1" fill="#000"/>
<rect x="608" y="442" width="7" height="1" fill="#000"/>
<rect x="608" y="461" width="7" height="1" fill="#000"/>
<rect x="608" y="481" width="7" height="1" fill="#000"/>
<rect x="608" y="500" width="7" height="1" fill="#000"/>
<rect x="608" y="520" width="7" height="1" fill="#000"/>
<rect x="608" y="539" width="7" height="1" fill="#000"/>
<rect x="608" y="558" width="7" height="1" fill="#000"/>
<rect x="608" y="578" width="7" height="1" fill="#000"/>
<rect x="608" y="582" width="7" height="1" fill="#000"/>
<text class="cb" transform="translate(617.4,345.2) scale(1.15,1)">6.3</text>
<text class="cb" transform="translate(617.4,369.2) scale(1.15,1)">5.0</text>
<text class="cb" transform="translate(617.4,388.2) scale(1.15,1)">4.0</text>
<text class="cb" transform="translate(617.4,407.2) scale(1.15,1)">3.0</text>
<text class="cb" transform="translate(617.4,427.2) scale(1.15,1)">2.0</text>
<text class="cb" transform="translate(617.4,446.2) scale(1.15,1)">1.0</text>
<text class="cb" transform="translate(617.4,465.2) scale(1.15,1)">0</text>
<text class="cb" transform="translate(617.4,485.2) scale(1.15,1)">-1.0</text>
<text class="cb" transform="translate(617.4,504.2) scale(1.15,1)">-2.0</text>
<text class="cb" transform="translate(617.4,524.2) scale(1.15,1)">-3.0</text>
<text class="cb" transform="translate(617.4,543.2) scale(1.15,1)">-4.0</text>
<text class="cb" transform="translate(617.4,562.2) scale(1.15,1)">-5.0</text>
<text class="cb" transform="translate(617.4,586.2) scale(1.15,1)">-6.3</text>
<text class="lg" transform="translate(658,493) rotate(-90)" style="fill:#000;letter-spacing:0px">Doppler, Hz</text>
<path d="M669,402.5 h8 M673,398.5 v8" stroke="#0000dd" stroke-width="1.2"/>
<text class="lg" x="682.5" y="406" style="fill:#0000dd">Positive</text>
<circle cx="673" cy="523" r="2.7" fill="none" stroke="#ee0000" stroke-width="1.2"/>
<text class="lg" x="683" y="526" style="fill:#ee0000;letter-spacing:1.15px">Negative</text>
<!-- bottom -->
<text class="it" x="12" y="572" style="font-size:13.333px">V</text>
<text class="im" x="19.5" y="575.5" style="font-size:10px;letter-spacing:0">h</text>
<text class="im" x="33" y="572">=</text>
<text class="it" x="54" y="572">?</text>
<text class="im" x="68" y="572">±</text>
<text class="it" x="89" y="572">?</text>
<text class="im" x="103" y="572">m/s</text>
<text class="it" x="467" y="572" style="font-size:13.333px">V</text>
<text class="im" x="474.5" y="575.5" style="font-size:10px;letter-spacing:0">z</text>
<text class="im" x="488" y="572">=</text>
<text class="it" x="509" y="572">?</text>
<text class="im" x="523" y="572">±</text>
<text class="it" x="544" y="572">?</text>
<text class="im" x="558" y="572">m/s</text>
<text class="it" x="12" y="592" style="font-size:12px;letter-spacing:-0.2px">Geographic coordinates</text>
<text class="it" x="419" y="592" style="font-size:12px;letter-spacing:-0.2px">Zenith: max 40°</text>
<text class="it" x="533.5" y="592" style="font-size:12px;letter-spacing:-0.2px">step 5°</text>
<text class="sm" x="654.5" y="593">ShowSkymap v 1.0   SD v 5.1</text>
</svg>
</body></html>
